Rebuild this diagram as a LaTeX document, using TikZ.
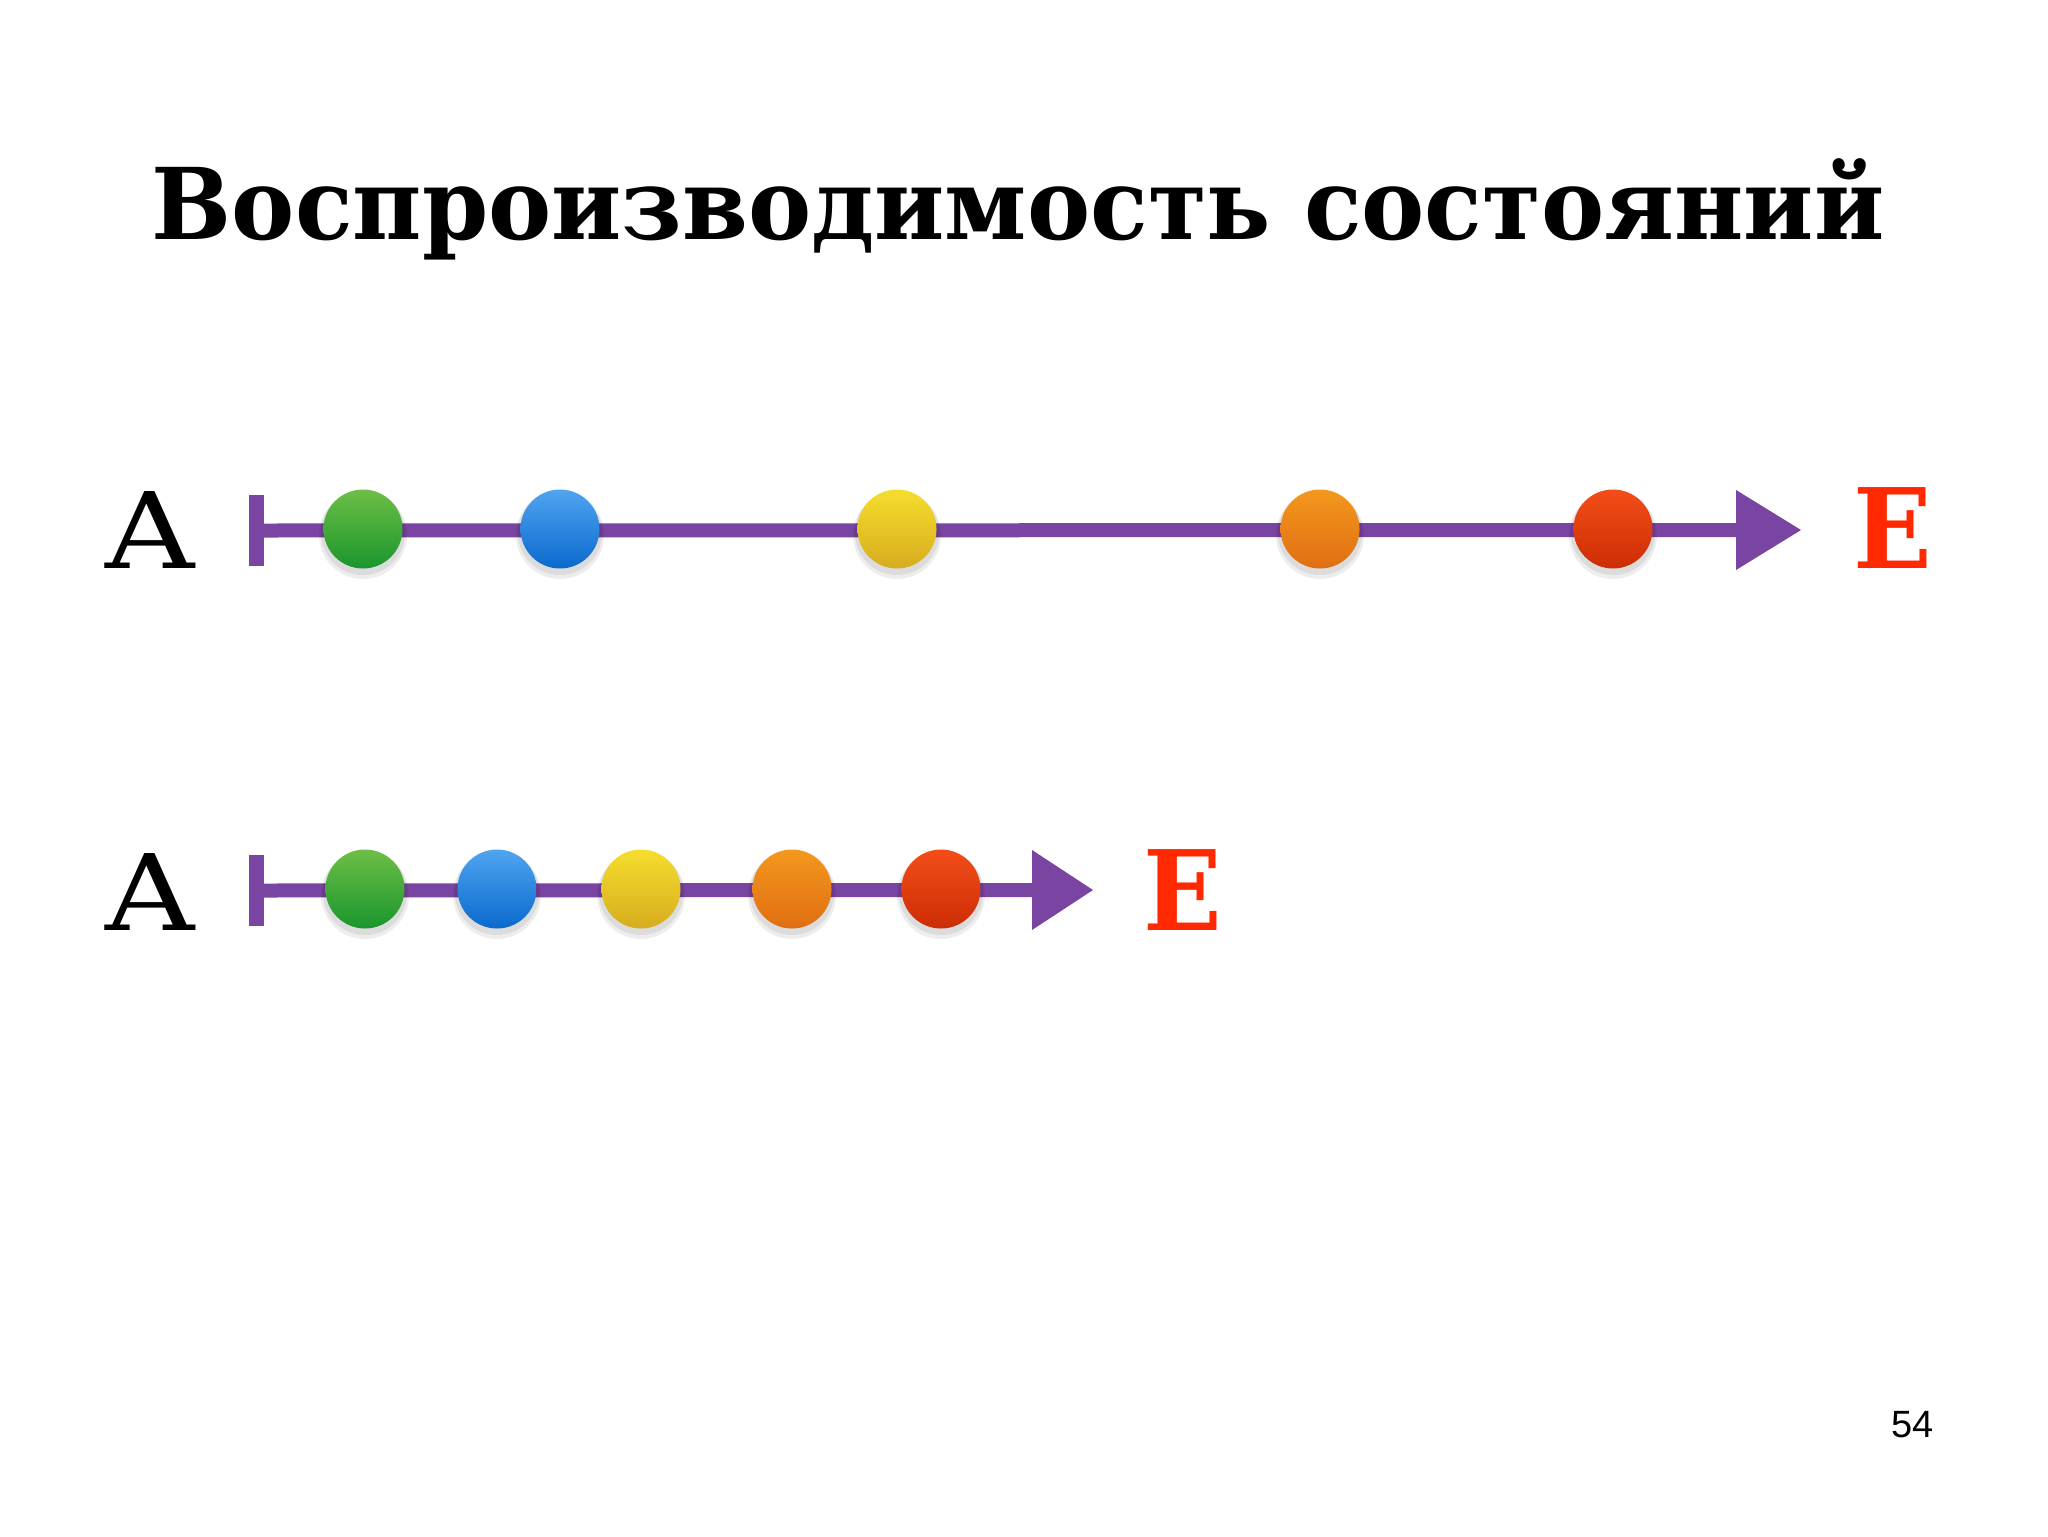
\documentclass[tikz,border=0pt]{standalone}
\usepackage{fontspec}
\setmainfont{DejaVu Serif}
\newfontfamily\numfont{Liberation Sans}
\definecolor{chalk}{RGB}{122,68,163}
\definecolor{ered}{RGB}{255,40,0}
\definecolor{gTop}{RGB}{110,190,70}\definecolor{gBot}{RGB}{25,150,45}
\definecolor{bTop}{RGB}{80,165,240}\definecolor{bBot}{RGB}{10,105,205}
\definecolor{yTop}{RGB}{245,222,45}\definecolor{yBot}{RGB}{215,172,30}
\definecolor{oTop}{RGB}{243,152,30}\definecolor{oBot}{RGB}{225,110,18}
\definecolor{rTop}{RGB}{243,78,25}\definecolor{rBot}{RGB}{205,45,5}
\newcommand{\letA}{\scalebox{1.17}[1]{\fontsize{52.8pt}{53pt}\selectfont A}}
\newcommand{\letE}{\scalebox{0.93}[1]{\fontsize{55.5pt}{56pt}\selectfont\bfseries\color{ered}E}}
\begin{document}
\begin{tikzpicture}[x=0.5pt,y=-0.5pt,
  ball/.style={circle, minimum size=39.5pt, inner sep=0pt, draw=none},
  chalkline/.style={draw=chalk, line width=7pt},
  tickbar/.style={fill=chalk, draw=none, minimum width=7.5pt, minimum height=35.5pt, inner sep=0pt},
  lbl/.style={inner sep=0pt, anchor=base west},
  shadowball/.style={fill=black, opacity=0.07}]
\useasboundingbox[fill=white] (0,0) rectangle (2048,1536);

% title
\node[inner sep=0pt, anchor=base] (title) at (1018,239)
  {\scalebox{0.957}[1]{\fontsize{49.5pt}{50pt}\selectfont\bfseries Воспроизводимость состояний}};

% page number
\node[inner sep=0pt, anchor=base east] (pnum) at (1934,1437)
  {\numfont\fontsize{19pt}{20pt}\selectfont 54};

% ---------- row 1 ----------
\node[lbl] (A1) at (105,568) {\letA};
\node[lbl] (E1) at (1853,568) {\letE};
\node[tickbar] (t1) at (256.5,530.5) {};
\coordinate (b1) at (1740,530);
\draw[chalkline] (t1.center) -- (b1);
\fill[chalk] (1736,490) -- (1801,530) -- (1736,570) -- cycle;
\coordinate (end1) at (1801,530);
\foreach \x/\c [count=\i] in {363/g,560/b,897/y,1320/o,1613/r}{
  \fill[shadowball] (\x,535) circle (44);
  \fill[shadowball] (\x,533) circle (42);
  \node[ball, top color=\c Top, bottom color=\c Bot] (r1n\i) at (\x,529) {};
}

% ---------- row 2 ----------
\node[lbl] (A2) at (105,930) {\letA};
\node[lbl] (E2) at (1143,930) {\letE};
\node[tickbar] (t2) at (256.5,890.5) {};
\coordinate (b2) at (1036,890);
\draw[chalkline] (t2.center) -- (b2);
\fill[chalk] (1032,850) -- (1093,890) -- (1032,930) -- cycle;
\coordinate (end2) at (1093,890);
\foreach \x/\c [count=\i] in {365/g,497/b,641/y,792/o,941/r}{
  \fill[shadowball] (\x,895) circle (44);
  \fill[shadowball] (\x,893) circle (42);
  \node[ball, top color=\c Top, bottom color=\c Bot] (r2n\i) at (\x,889) {};
}
\end{tikzpicture}
\end{document}
